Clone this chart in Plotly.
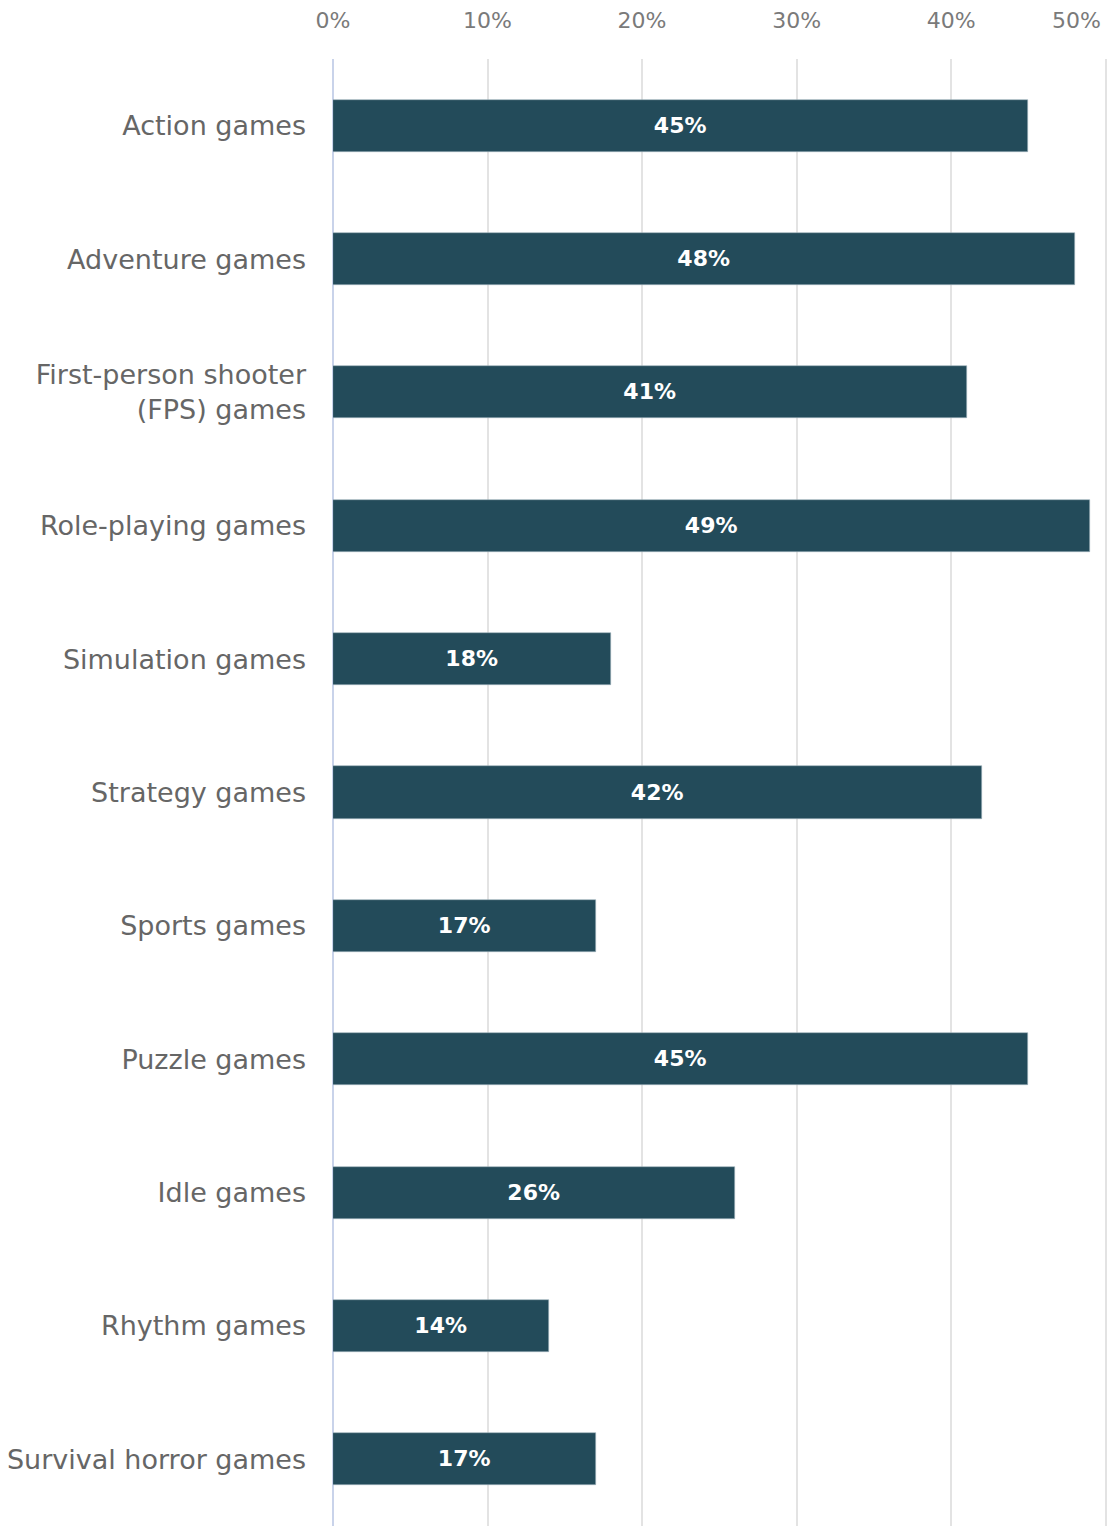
import plotly.graph_objects as go

# Share of respondents by game genre (percent)
genres = [
    "Action games",
    "Adventure games",
    "First-person shooter<br>(FPS) games",
    "Role-playing games",
    "Simulation games",
    "Strategy games",
    "Sports games",
    "Puzzle games",
    "Idle games",
    "Rhythm games",
    "Survival horror games",
]
shares = [45, 48, 41, 49, 18, 42, 17, 45, 26, 14, 17]

tick_values = [0, 10, 20, 30, 40, 50]
tick_labels = ["0%", "10%", "20%", "30%", "40%", ""]

BAR_COLOR = "#234B5A"
FONT = "DejaVu Sans, Liberation Sans, Arial, sans-serif"

fig = go.Figure(
    go.Bar(
        x=shares,
        y=genres,
        orientation="h",
        width=0.39,
        marker=dict(color=BAR_COLOR, line=dict(color="#9fb3bd", width=0.6)),
        texttemplate="<b>%{x}%</b>",
        textposition="inside",
        insidetextanchor="middle",
        textangle=0,
        textfont=dict(family=FONT, size=22, color="white"),
        hoverinfo="skip",
    )
)

fig.update_layout(
    width=1115,
    height=1526,
    margin=dict(l=333, r=7, t=59, b=0),
    paper_bgcolor="white",
    plot_bgcolor="white",
    showlegend=False,
    bargap=0,
    uniformtext=dict(minsize=22, mode="show"),
    xaxis=dict(
        side="top",
        range=[0, 50.15],
        tickmode="array",
        tickvals=tick_values,
        ticktext=tick_labels,
        showgrid=True,
        gridcolor="#e3e3e3",
        gridwidth=1.5,
        zeroline=True,
        zerolinecolor="#c9d3ea",
        zerolinewidth=1.5,
        showline=False,
        ticks="",
        tickfont=dict(family=FONT, size=22, color="#7a7a7a"),
        ticklabelstandoff=26,
        fixedrange=True,
    ),
    yaxis=dict(
        autorange="reversed",
        showgrid=False,
        zeroline=False,
        showline=False,
        ticks="",
        tickfont=dict(family=FONT, size=27, color="#666666"),
        ticklabelstandoff=26,
        fixedrange=True,
    ),
    annotations=[
        dict(
            x=50,
            y=1,
            xref="x",
            yref="paper",
            yshift=39,
            xshift=-3,
            text="50%",
            showarrow=False,
            xanchor="right",
            yanchor="middle",
            font=dict(family=FONT, size=22, color="#7a7a7a"),
        )
    ],
)

fig.write_html("out.html")
